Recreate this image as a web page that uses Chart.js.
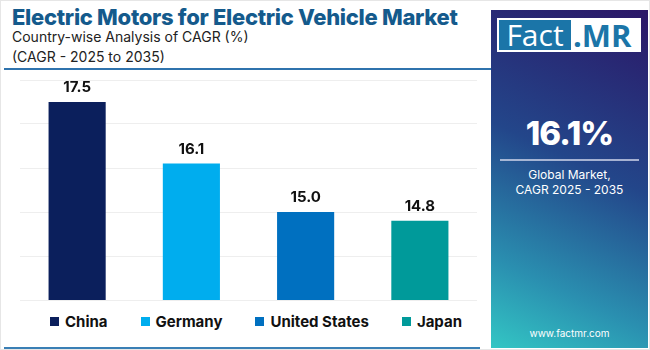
<!DOCTYPE html>
<html>
<head>
<meta charset="utf-8">
<script src="https://cdn.jsdelivr.net/npm/chart.js@4.4.1/dist/chart.umd.min.js"></script>
<style>
  html, body { margin: 0; padding: 0; }
  body { width: 650px; height: 350px; position: relative; background: #fff; overflow: hidden; font-family: Inter, 'Open Sans', sans-serif; }
  .frame { position: absolute; left: 0; top: 0; width: 648px; height: 348px; border: 1px solid #e6e6e6; }
  .title { position: absolute; left: 12px; top: 4px; font-size: 22px; font-weight: 800; color: #145a8c; white-space: nowrap; letter-spacing: -0.3px; }
  .sub { position: absolute; left: 12px; font-size: 14px; color: #222; white-space: nowrap; }
  .rule { position: absolute; left: 4px; height: 2px; background: #2f73ad; }
  #wrap { position: absolute; left: 0; top: 62px; width: 480px; height: 250px; }
  .legend { position: absolute; left: 0; top: 312px; width: 512px; display: flex; justify-content: center; gap: 33px; font-size: 15px; font-weight: 700; color: #111; }
  .legend span.it { display: flex; align-items: center; }
  .legend i { display: inline-block; width: 9px; height: 9px; margin-right: 6px; }
  .panel { position: absolute; left: 491px; top: 10px; width: 157px; height: 338px;
    background: linear-gradient(205deg, #2b1767 0%, #23468a 45%, #2a8fb0 78%, #33c6c4 100%); color: #fff; text-align: center; }
  .logo { position: absolute; left: 6px; top: 8px; width: 144px; height: 34px; background: #fff; }
  .logo .f { position: absolute; left: 2px; top: 2px; width: 72px; height: 30px; background: #1b75a8; color: #fff; font-size: 30px; line-height: 30px; font-family: 'Open Sans', sans-serif; }
  .logo .m { position: absolute; left: 76px; top: 2px; height: 30px; color: #1b75a8; font-size: 31px; line-height: 30px; font-weight: 700; font-family: 'Open Sans', sans-serif; }
  .big { position: absolute; left: 0; width: 157px; top: 103px; font-size: 33px; font-weight: 800; letter-spacing: -1px; }
  .hr { position: absolute; left: 9px; top: 149px; width: 139px; height: 2px; background: rgba(210,215,235,0.75); }
  .gl { position: absolute; left: 0; width: 157px; font-size: 12px; }
  .url { position: absolute; left: 0; width: 157px; top: 317px; font-size: 10px; }
</style>
</head>
<body>
<div class="frame"></div>
<div class="title">Electric Motors for Electric Vehicle Market</div>
<div class="sub" style="top:28px">Country-wise Analysis of CAGR (%)</div>
<div class="sub" style="top:48px">(CAGR - 2025 to 2035)</div>
<div class="rule" style="top:68px; width:487px"></div>
<div class="rule" style="top:347px; width:476px; background:#3a7fb5"></div>
<div id="wrap"><canvas id="chart"></canvas></div>
<div class="legend" id="legend"></div>
<div class="panel">
  <div class="logo"><div class="f">Fact</div><div class="m">.MR</div></div>
  <div class="big">16.1%</div>
  <div class="hr"></div>
  <div class="gl" style="top:157px">Global Market,</div>
  <div class="gl" style="top:172px">CAGR 2025 - 2035</div>
  <div class="url">www.factmr.com</div>
</div>
<script>
// data
const countries = ['China', 'Germany', 'United States', 'Japan'];
const cagr = [17.5, 16.1, 15.0, 14.8];
const barColors = ['#0b1f5c', '#00adee', '#0070c0', '#009a9a'];
const yMin = 13, yMax = 18;

// legend
document.getElementById('legend').innerHTML = countries
  .map((c, i) => `<span class="it"><i style="background:${barColors[i]}"></i>${c}</span>`).join('');

// value labels above bars
const valueLabels = {
  id: 'valueLabels',
  afterDatasetsDraw(chart) {
    const { ctx } = chart;
    const meta = chart.getDatasetMeta(0);
    ctx.save();
    ctx.font = '700 15px Inter, sans-serif';
    ctx.fillStyle = '#111';
    ctx.textAlign = 'center';
    ctx.textBaseline = 'bottom';
    meta.data.forEach((bar, i) => {
      ctx.fillText(cagr[i].toFixed(1), bar.x, bar.y - 7);
    });
    ctx.restore();
  }
};

new Chart(document.getElementById('chart'), {
  type: 'bar',
  data: {
    labels: countries,
    datasets: [{ data: cagr, backgroundColor: barColors, barPercentage: 0.5, categoryPercentage: 1 }]
  },
  options: {
    responsive: true, maintainAspectRatio: false, animation: false,
    layout: { padding: { left: 20, right: 3, top: 18, bottom: 12 } },
    plugins: { legend: { display: false }, tooltip: { enabled: false } },
    scales: {
      x: { display: false },
      y: {
        min: yMin, max: yMax,
        ticks: { display: false, stepSize: 1 },
        border: { display: false },
        grid: { color: '#eeeeee', drawTicks: false }
      }
    }
  },
  plugins: [valueLabels]
});
</script>
</body>
</html>
